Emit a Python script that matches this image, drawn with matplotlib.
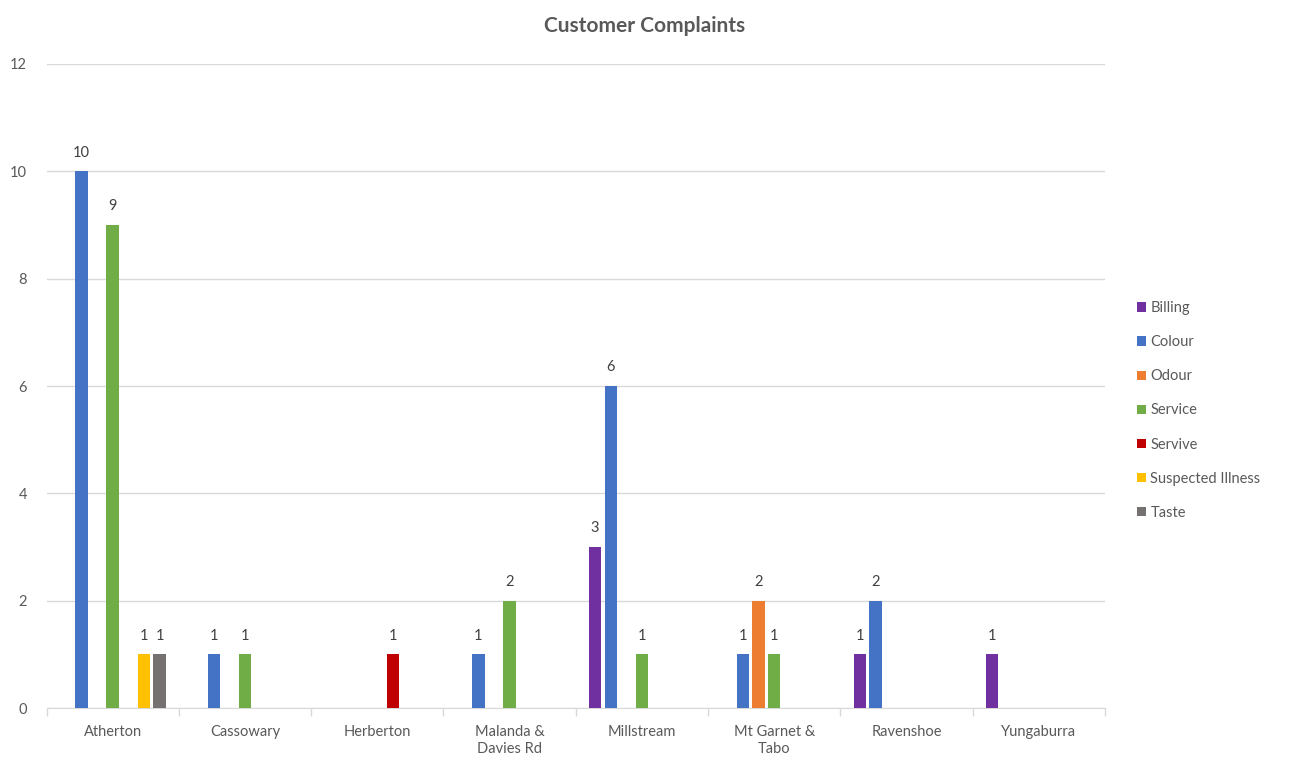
import numpy as np
import matplotlib
matplotlib.use("Agg")
import matplotlib.pyplot as plt

plt.rcParams['font.family'] = ['Lato', 'DejaVu Sans']

# --- data ---
towns = ["Atherton", "Cassowary", "Herberton", "Malanda &\nDavies Rd", "Millstream",
         "Mt Garnet &\nTabo", "Ravenshoe", "Yungaburra"]
nan = np.nan
billing = [nan, nan, nan, nan, 3, nan, 1, 1]
colour = [10, 1, nan, 1, 6, 1, 2, nan]
odour = [nan, nan, nan, nan, nan, 2, nan, nan]
service = [9, 1, nan, 2, 1, 1, nan, nan]
servive = [nan, nan, 1, nan, nan, nan, nan, nan]
suspected_illness = [1, nan, nan, nan, nan, nan, nan, nan]
taste = [1, nan, nan, nan, nan, nan, nan, nan]

series = {
    "Billing": (billing, "#7030A0"),
    "Colour": (colour, "#4472C4"),
    "Odour": (odour, "#ED7D31"),
    "Service": (service, "#70AD47"),
    "Servive": (servive, "#C00000"),
    "Suspected Illness": (suspected_illness, "#FFC000"),
    "Taste": (taste, "#767171"),
}

txt = "#595959"
fig = plt.figure(figsize=(12.89, 7.6), dpi=100)
ax = fig.add_axes([0.0361, 0.0684, 0.8212, 0.8474])

x = np.arange(len(towns))
step = 0.118
width = 0.094
n = len(series)
handles = []
for i, (name, (vals, col)) in enumerate(series.items()):
    pos = x + (i - (n - 1) / 2) * step
    v = np.array(vals, dtype=float)
    bars = ax.bar(pos, np.nan_to_num(v), width, color=col, label=name, zorder=3)
    handles.append(bars)
    for p, val in zip(pos, v):
        if not np.isnan(val):
            ax.text(p, val + 0.22, f"{int(val)}", ha="center", va="bottom",
                    fontsize=10.5, color="#404040")

ax.set_xlim(-0.5, len(towns) - 0.5)
ax.set_ylim(0, 12)
ax.set_yticks(range(0, 13, 2))
ax.yaxis.grid(True, color="#d9d9d9", linewidth=1, zorder=0)
ax.tick_params(axis="y", length=0, labelsize=10.5, labelcolor=txt, pad=14)

ax.set_xticks(x)
ax.set_xticklabels(towns, fontsize=10.5, color=txt, linespacing=1.3)
ax.set_xticks(np.arange(-0.5, len(towns) + 0.5, 1), minor=True)
ax.tick_params(axis="x", which="major", length=0, pad=12)
ax.tick_params(axis="x", which="minor", length=6, color="#d9d9d9", width=1)

for s in ["top", "right", "left"]:
    ax.spines[s].set_visible(False)
ax.spines["bottom"].set_color("#d9d9d9")

fig.text(0.5, 0.966, "Customer Complaints", ha="center", va="center",
         fontsize=15, fontweight="bold", color=txt)

fig.legend(handles=handles, loc="center left", bbox_to_anchor=(0.872, 0.460),
           frameon=False, fontsize=10.5, labelcolor=txt, handlelength=0.6,
           handleheight=0.6, handletextpad=0.3, labelspacing=1.38)

fig.savefig("out.png", dpi=100)
